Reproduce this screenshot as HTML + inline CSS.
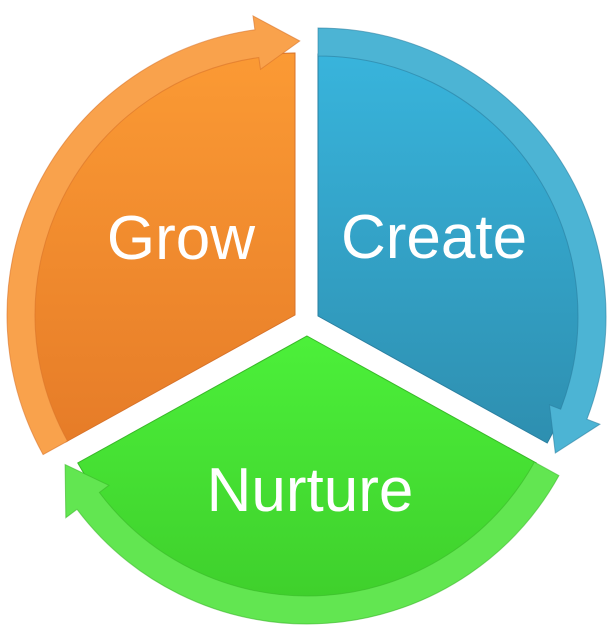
<!DOCTYPE html>
<html><head><meta charset="utf-8"><style>
html,body{margin:0;padding:0;background:#fff;width:614px;height:630px;overflow:hidden}
svg{display:block}
text{font-family:"Liberation Sans",sans-serif;fill:#fff;font-size:62px;text-anchor:middle}
</style></head><body>
<svg id="s" width="614" height="630" viewBox="0 0 614 630" xmlns="http://www.w3.org/2000/svg">
<defs>
<linearGradient id="gb" x1="0" y1="0" x2="0" y2="1"><stop offset="0" stop-color="#38b4dc"/><stop offset="1" stop-color="#2e8fb0"/></linearGradient>
<linearGradient id="gg" x1="0" y1="0" x2="0" y2="1"><stop offset="0" stop-color="#4cf03a"/><stop offset="1" stop-color="#3fd02c"/></linearGradient>
<linearGradient id="go" x1="0" y1="0" x2="0" y2="1"><stop offset="0" stop-color="#fb9a34"/><stop offset="1" stop-color="#e67c28"/></linearGradient>
</defs>
<g id="g"></g>
<text x="434" y="258">Create</text>
<text x="181" y="259">Grow</text>
<text x="310" y="511">Nurture</text>
</svg>
<script>
function P(cx,cy,r,a){a=a*Math.PI/180;return [(cx+r*Math.cos(a)).toFixed(1),(cy+r*Math.sin(a)).toFixed(1)].join(',');}
var segs=[
 {cx:318,cy:316,a0:-90,a1:29,body:'url(#gb)',band:'#4cb4d4',edge:'#2a7fa0'},
 {cx:307,cy:336,a0:29,a1:151,body:'url(#gg)',band:'#62e651',edge:'#38b828'},
 {cx:295,cy:315,a0:151,a1:270,body:'url(#go)',band:'#f9a24c',edge:'#d8732a'}
];
var h='';
segs.forEach(function(s){
 var R=262,Ro=288,ri=R-2;
 h+='<path d="M'+s.cx+','+s.cy+' L'+P(s.cx,s.cy,R,s.a0)+' A'+R+','+R+' 0 0 1 '+P(s.cx,s.cy,R,s.a1)+' Z" fill="'+s.body+'" stroke="'+s.edge+'" stroke-width="1"/>';
 var b1=s.a1-8;
 h+='<path d="M'+P(s.cx,s.cy,ri,s.a0)+' A'+ri+','+ri+' 0 0 1 '+P(s.cx,s.cy,ri,b1)+' L'+P(s.cx,s.cy,ri-12,b1)+' L'+P(s.cx,s.cy,(ri+Ro)/2,s.a1+1)+' L'+P(s.cx,s.cy,Ro+14,b1)+' L'+P(s.cx,s.cy,Ro,b1)+' A'+Ro+','+Ro+' 0 0 0 '+P(s.cx,s.cy,Ro,s.a0)+' Z" fill="'+s.band+'" stroke="'+s.edge+'" stroke-width="1" stroke-opacity="0.6"/>';
});
document.getElementById('g').innerHTML=h;
</script>
</body></html>
